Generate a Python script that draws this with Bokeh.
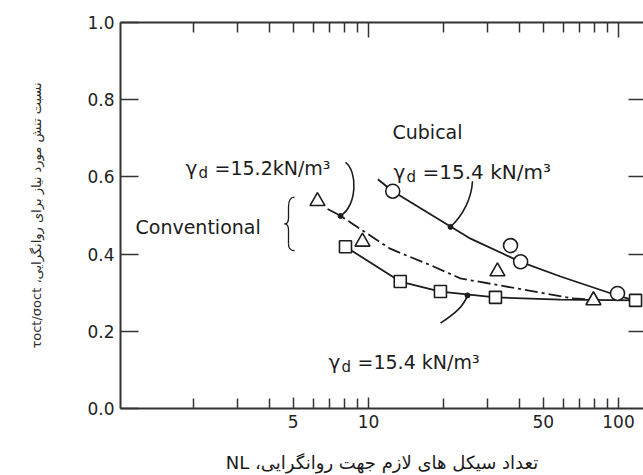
import math
from bokeh.plotting import figure
from bokeh.models import (Range1d, LogAxis, LinearAxis, FixedTicker, Label,
                          PrintfTickFormatter)
from bokeh.embed import file_html
from bokeh.resources import INLINE

# ---------------- data ----------------
cubical_n = [12.5, 37.0, 40.6, 99.1]
cubical_r = [0.563, 0.422, 0.380, 0.298]
cubical_fit_n = [10.9, 12.5, 25.6, 40.6, 58.6, 95.5, 112.0]
cubical_fit_r = [0.594, 0.563, 0.440, 0.380, 0.342, 0.296, 0.283]

conv152_n = [6.25, 9.46, 32.8, 79.4]
conv152_r = [0.537, 0.432, 0.355, 0.280]
conv152_fit_n = [6.86, 7.73, 12.2, 18.2, 23.3, 66.1, 73.8]
conv152_fit_r = [0.517, 0.499, 0.414, 0.368, 0.337, 0.285, 0.283]

conv154_n = [8.09, 13.4, 19.4, 32.2, 117.0]
conv154_r = [0.419, 0.329, 0.303, 0.288, 0.280]
conv154_fit_n = [8.09, 13.4, 19.4, 32.2, 58.6, 117.0]
conv154_fit_r = [0.419, 0.329, 0.303, 0.288, 0.282, 0.280]

x_label_ticks = [5, 10, 50, 100]
x_minor_ticks = [2, 3, 4, 6, 7, 8, 9, 20, 30, 40, 60, 70, 80, 90]
top_major_ticks = [10, 100]
top_minor_ticks = [2, 3, 4, 5, 6, 7, 8, 9, 20, 30, 40, 50, 60, 70, 80, 90]
y_ticks = [0.0, 0.2, 0.4, 0.6, 0.8, 1.0]
right_ticks = [0.2, 0.4, 0.6, 0.8]

RLE, PDF = "\u202B", "\u202C"   # right-to-left embedding for the Persian titles
x_title = RLE + "تعداد سیکل های لازم جهت روانگرایی، NL" + PDF
y_title = RLE + "نسبت تنش مورد نیاز برای روانگرایی، τoct/σoct" + PDF

# ---------------- layout ----------------
W, H = 643, 475
FL, FR, FT, FB = 120, 643, 22, 411          # frame edges on canvas
X0, X1 = 1.0186, 125.9
Y0, Y1 = 0.0, 1.0
INK = "#1c1c1c"


def dx(xp):  # canvas pixel -> data x (annotation placement)
    f = (xp - FL) / (FR - FL)
    return 10 ** (math.log10(X0) + f * (math.log10(X1) - math.log10(X0)))


def dy(yp):  # canvas pixel -> data y
    return Y0 + (FB - yp) / (FB - FT) * (Y1 - Y0)


p = figure(width=W, height=H, x_axis_type="log",
           x_range=Range1d(X0, X1), y_range=Range1d(Y0, Y1),
           output_backend="svg", toolbar_location=None,
           min_border_left=FL, min_border_right=0,
           min_border_top=FT, min_border_bottom=H - FB)
p.background_fill_color = "white"
p.border_fill_color = "white"
p.outline_line_color = None
p.xgrid.visible = False
p.ygrid.visible = False

# bottom axis
bx = p.below[0]
bx.ticker = FixedTicker(ticks=x_label_ticks, minor_ticks=x_minor_ticks)
bx.formatter = PrintfTickFormatter(format="%d")
bx.major_tick_in = 11
bx.major_tick_out = 0
bx.minor_tick_in = 10
bx.minor_tick_out = 0
bx.axis_line_width = 2
bx.axis_line_color = "#333333"
bx.major_tick_line_color = "#333333"
bx.minor_tick_line_color = "#333333"
bx.major_tick_line_width = 1.5
bx.minor_tick_line_width = 1.5
bx.major_label_text_font = "DejaVu Sans"
bx.major_label_text_font_size = "17px"
bx.major_label_text_color = "#222222"
bx.major_label_standoff = 6
bx.axis_label = x_title
bx.axis_label_text_font = "DejaVu Sans"
bx.axis_label_text_font_size = "18px"
bx.axis_label_text_font_style = "normal"
bx.axis_label_text_color = "#1a1a1a"
bx.axis_label_standoff = 21

# left axis
ly = p.left[0]
ly.ticker = FixedTicker(ticks=y_ticks, minor_ticks=[])
ly.formatter = PrintfTickFormatter(format="%.1f")
ly.major_tick_in = 18
ly.major_tick_out = 0
ly.axis_line_width = 2
ly.axis_line_color = "#333333"
ly.major_tick_line_color = "#333333"
ly.major_tick_line_width = 1.5
ly.major_label_text_font = "DejaVu Sans"
ly.major_label_text_font_size = "17px"
ly.major_label_text_color = "#222222"
ly.major_label_standoff = 6
ly.axis_label = y_title
ly.axis_label_text_font = "DejaVu Sans"
ly.axis_label_text_font_size = "13px"
ly.axis_label_text_font_style = "normal"
ly.axis_label_text_color = "#2b2b2b"
ly.axis_label_standoff = 40

# top axis (ticks only)
tx = LogAxis(ticker=FixedTicker(ticks=top_major_ticks, minor_ticks=top_minor_ticks),
             major_tick_in=15, major_tick_out=0, minor_tick_in=10, minor_tick_out=0,
             major_label_text_font_size="1px", major_label_text_color=None,
             major_label_standoff=0,
             axis_line_width=2, axis_line_color="#333333",
             major_tick_line_color="#333333", minor_tick_line_color="#333333",
             major_tick_line_width=1.5, minor_tick_line_width=1.5)
p.add_layout(tx, "above")

# right axis (inner ticks only, no spine visible)
ry = LinearAxis(ticker=FixedTicker(ticks=right_ticks, minor_ticks=[]),
                major_tick_in=15, major_tick_out=0,
                major_label_text_font_size="1px", major_label_text_color=None,
                major_label_standoff=0,
                axis_line_color=None, major_tick_line_color="#333333",
                major_tick_line_width=1.5, minor_tick_line_color=None)
p.add_layout(ry, "right")

# ---------------- curves ----------------
p.line(cubical_fit_n, cubical_fit_r, line_color=INK, line_width=1.8)
p.line(conv152_fit_n, conv152_fit_r, line_color=INK, line_width=1.8, line_dash="13 4 3 4")
p.line(conv154_fit_n, conv154_fit_r, line_color=INK, line_width=1.8)

# ---------------- markers ----------------
p.scatter(cubical_n, cubical_r, marker="circle", size=14, fill_color="white",
          line_color=INK, line_width=1.6)
p.scatter(conv152_n, conv152_r, marker="triangle", size=15, fill_color="white",
          line_color=INK, line_width=1.6)
p.scatter(conv154_n, conv154_r, marker="square", size=12, fill_color="white",
          line_color=INK, line_width=1.6)

# ---------------- leader arcs and brace (annotation strokes) ----------------
arcs = [
    ((345, 163), (357, 172), (357, 205), (340, 217)),
    ((472, 182), (471, 200), (462, 217), (450, 228)),
    ((440, 325), (455, 315), (463, 308), (467, 297)),
]
for (a, c0, c1, b) in arcs:
    p.bezier(x0=[dx(a[0])], y0=[dy(a[1])], x1=[dx(b[0])], y1=[dy(b[1])],
             cx0=[dx(c0[0])], cy0=[dy(c0[1])], cx1=[dx(c1[0])], cy1=[dy(c1[1])],
             line_color=INK, line_width=1.6)
    p.scatter([dx(b[0])], [dy(b[1])], marker="circle", size=5, color=INK)

brace = [
    ((294, 198), (290, 198), (288, 202), (288, 208)),
    ((288, 208), (288, 212), (288, 215), (288, 219)),
    ((288, 219), (288, 223), (286, 225), (284, 225)),
    ((284, 225), (286, 225), (288, 227), (288, 231)),
    ((288, 231), (288, 236), (288, 240), (288, 245)),
    ((288, 245), (288, 250), (290, 252), (294, 252)),
]
for (a, c0, c1, b) in brace:
    p.bezier(x0=[dx(a[0])], y0=[dy(a[1])], x1=[dx(b[0])], y1=[dy(b[1])],
             cx0=[dx(c0[0])], cy0=[dy(c0[1])], cx1=[dx(c1[0])], cy1=[dy(c1[1])],
             line_color=INK, line_width=1.3)


def lab(xp, yp, text, size, font="DejaVu Sans", align="left",
        baseline="alphabetic", angle=0.0, color=INK):
    p.add_layout(Label(x=dx(xp), y=dy(yp), text=text, text_font=font,
                       text_font_size=f"{size}px", text_align=align,
                       text_baseline=baseline, angle=angle, text_color=color))


def gamma(xp, base, txt, size=19):
    lab(xp, base, "γ", 20)
    lab(xp + 13, base + 5, "d", 15)
    lab(xp + 29, base, txt, size)


gamma(185, 169, "=15.2kN/m³")
gamma(393, 173, "=15.4 kN/m³", 20)
gamma(328, 364, "=15.4 kN/m³")
lab(392, 132, "Cubical", 19)
lab(135, 228, "Conventional", 19)

open("out.html", "w").write(file_html(p, INLINE))
